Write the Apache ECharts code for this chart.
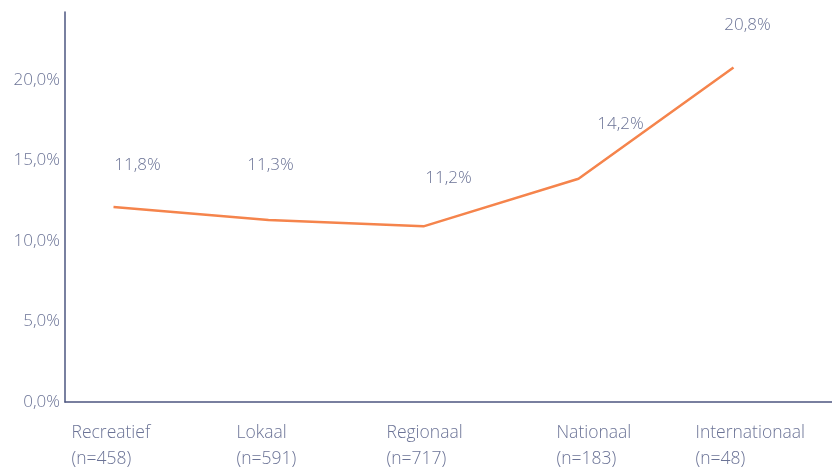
<!DOCTYPE html>
<html>
<head>
<meta charset="utf-8">
<script src="https://cdn.jsdelivr.net/npm/echarts@6/dist/echarts.min.js"></script>
<style>
  html, body { margin: 0; padding: 0; background: #fff; }
  #chart { width: 832px; height: 468px; }
</style>
</head>
<body>
<div id="chart"></div>
<script>
// categories and values
var categories = ['Recreatief', 'Lokaal', 'Regionaal', 'Nationaal', 'Internationaal'];
var sampleSizes = ['(n=458)', '(n=591)', '(n=717)', '(n=183)', '(n=48)'];
var lineValues = [12.1, 11.3, 10.9, 13.85, 20.75];
var labelTexts = ['11,8%', '11,3%', '11,2%', '14,2%', '20,8%'];
var yTicks = [0, 5, 10, 15, 20];

var textColor = '#6b7396';
var axisColor = '#4d5680';
var fontName = 'Open Sans';

// where each value label sits relative to its point
var labelOffsets = [[24, -42], [2, -55], [25, -48], [42, -55], [14, -42]];
// small left indents of the category labels
var catIndents = [0, 10, 5, 20, 4];

var myChart = echarts.init(document.getElementById('chart'));

var seriesData = lineValues.map(function (v, i) {
    return {
        value: v,
        label: {
            show: true,
            position: 'inside',
            offset: labelOffsets[i],
            formatter: labelTexts[i]
        }
    };
});

var catRich = {};
catIndents.forEach(function (p, i) {
    catRich['c' + i] = {
        align: 'left',
        color: textColor,
        fontSize: 17.5,
        fontWeight: 300,
        fontFamily: fontName,
        lineHeight: 26,
        padding: [0, 0, 0, p]
    };
});

var option = {
    animation: false,
    textStyle: { fontFamily: fontName },
    grid: [
        // grid with the visible axis lines
        { left: 65, right: 0, top: 12, bottom: 66 },
        // grid that holds the line and the category labels
        { left: 36, right: 21, top: 12, bottom: 66 }
    ],
    xAxis: [
        {
            gridIndex: 0,
            type: 'value',
            min: 0,
            max: 1,
            axisLine: { show: true, lineStyle: { color: axisColor, width: 1.5 } },
            axisTick: { show: false },
            axisLabel: { show: false },
            splitLine: { show: false }
        },
        {
            gridIndex: 1,
            type: 'category',
            data: categories,
            boundaryGap: true,
            axisLine: { show: false },
            axisTick: { show: false },
            axisLabel: {
                margin: 18,
                align: 'center',
                width: 84,
                formatter: function (v, i) {
                    var k = 'c' + i;
                    return '{' + k + '|' + v + '}\n{' + k + '|' + sampleSizes[i] + '}';
                },
                rich: catRich
            }
        }
    ],
    yAxis: [
        {
            gridIndex: 0,
            type: 'value',
            min: yTicks[0],
            max: 24.2,
            interval: 5,
            axisLine: { show: true, lineStyle: { color: axisColor, width: 1.5 } },
            axisTick: { show: false },
            splitLine: { show: false },
            axisLabel: {
                margin: 5,
                color: textColor,
                fontSize: 17,
                fontWeight: 300,
                showMaxLabel: false,
                formatter: function (v) {
                    if (yTicks.indexOf(v) < 0) return '';
                    return v.toFixed(1).replace('.', ',') + '%';
                }
            }
        },
        {
            gridIndex: 1,
            type: 'value',
            min: yTicks[0],
            max: 24.2,
            show: false
        }
    ],
    series: [
        {
            type: 'line',
            xAxisIndex: 1,
            yAxisIndex: 1,
            data: seriesData,
            symbol: 'circle',
            symbolSize: 1,
            showSymbol: true,
            itemStyle: { color: 'rgba(0,0,0,0)' },
            lineStyle: { color: '#f5844c', width: 2.5 },
            label: {
                color: textColor,
                fontSize: 17,
                fontWeight: 300,
                fontFamily: fontName
            }
        }
    ]
};

myChart.setOption(option);
window.onresize = myChart.resize;
</script>
</body>
</html>
